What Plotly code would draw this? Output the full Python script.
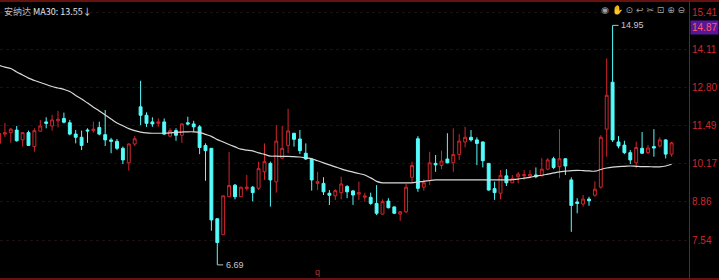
import plotly.graph_objects as go

# ---- data ----
opens = [10.88, 11.20, 11.25, 11.34, 11.00, 11.25, 10.77, 11.30, 11.62, 11.48,
         11.66, 11.74, 11.59, 11.20, 11.09, 11.34, 11.32, 11.43, 11.18, 11.00,
         10.95, 10.71, 10.21, 10.86, 12.14, 11.85, 11.62, 11.57, 11.62, 11.13,
         11.32, 11.16, 11.59, 11.55, 11.45, 10.81, 10.71, 8.28, 7.73, 9.04,
         9.44, 9.04, 9.32, 9.37, 9.33, 9.90, 10.19, 9.55, 10.37, 10.81,
         11.23, 11.03, 10.54, 10.34, 9.50, 9.50, 9.16, 9.07, 9.18, 9.39,
         9.24, 9.13, 9.02, 9.02, 8.81, 8.44, 8.89, 8.69, 8.44, 8.52,
         9.71, 11.04, 9.37, 9.59, 10.19, 10.12, 10.34, 10.21, 10.50, 10.93,
         11.09, 11.00, 10.93, 10.19, 9.32, 9.16, 9.76, 9.52, 9.73, 9.77,
         9.75, 9.79, 9.76, 9.99, 10.35, 10.08, 10.35, 9.62, 8.86, 8.79,
         8.96, 9.09, 9.37, 11.37, 12.99, 10.93, 10.82, 10.56, 10.21, 10.71,
         10.56, 10.77, 10.79, 11.00, 10.51]
highs = [11.31, 11.59, 11.41, 11.48, 11.27, 11.32, 11.40, 11.69, 11.78, 11.86,
         12.00, 11.94, 11.69, 11.34, 11.32, 11.40, 11.63, 11.63, 12.03, 11.07,
         11.03, 10.77, 10.88, 11.13, 13.04, 11.95, 11.78, 11.74, 11.74, 11.40,
         11.40, 11.58, 11.80, 11.66, 11.51, 10.88, 10.72, 8.30, 9.08, 10.58,
         9.48, 9.38, 9.79, 9.41, 10.25, 10.88, 10.25, 11.51, 11.48, 12.07,
         11.24, 11.34, 10.88, 10.38, 9.90, 9.71, 9.27, 9.30, 9.73, 9.44,
         9.27, 9.56, 9.18, 9.18, 9.44, 8.95, 8.99, 8.70, 8.55, 9.48,
         10.25, 11.13, 9.64, 10.59, 10.48, 10.63, 11.23, 11.40, 11.20, 11.45,
         11.34, 11.09, 10.94, 10.20, 9.56, 9.96, 9.99, 9.79, 9.89, 9.96,
         9.96, 10.05, 10.37, 10.37, 10.42, 11.37, 10.37, 9.71, 8.99, 9.10,
         9.04, 9.57, 11.16, 13.81, 14.95, 11.13, 10.97, 10.65, 10.94, 11.27,
         10.82, 11.37, 11.09, 11.02, 10.94]
lows = [10.79, 11.10, 10.90, 10.94, 10.77, 10.79, 10.59, 11.28, 11.40, 11.32,
        11.43, 11.57, 11.16, 10.88, 10.65, 10.90, 11.25, 11.16, 10.79, 10.54,
        10.65, 10.17, 9.94, 10.79, 11.51, 11.45, 11.45, 11.45, 11.17, 11.09,
        10.97, 10.90, 11.50, 11.28, 10.51, 9.59, 7.87, 6.69, 7.72, 9.03,
        8.95, 9.03, 9.25, 8.88, 9.27, 9.62, 8.70, 9.18, 10.35, 10.54,
        10.77, 10.51, 10.31, 9.25, 9.27, 9.10, 8.755, 8.93, 8.95, 8.99,
        8.76, 8.93, 8.87, 8.76, 8.41, 8.43, 8.64, 8.44, 8.21, 8.47,
        9.52, 9.21, 9.25, 9.44, 9.90, 9.99, 10.19, 9.90, 10.31, 10.74,
        10.94, 10.13, 10.05, 9.25, 8.93, 8.95, 9.41, 9.51, 9.50, 9.62,
        9.68, 9.68, 9.75, 9.96, 9.99, 9.68, 9.79, 7.83, 8.47, 8.70,
        8.73, 9.04, 9.32, 10.42, 10.93, 10.71, 10.51, 10.17, 10.02, 10.51,
        10.51, 10.42, 10.74, 10.36, 10.42]
closes = [11.23, 11.25, 11.37, 10.97, 11.25, 10.81, 11.32, 11.48, 11.57, 11.69,
          11.71, 11.61, 11.20, 11.09, 10.81, 11.31, 11.37, 11.20, 11.00, 10.95,
          10.71, 10.31, 10.86, 11.04, 11.85, 11.57, 11.55, 11.62, 11.20, 11.32,
          11.16, 11.55, 11.55, 11.45, 10.74, 10.63, 8.24, 7.46, 9.07, 9.43,
          9.04, 9.37, 9.37, 9.18, 10.01, 10.25, 9.62, 10.96, 10.71, 11.31,
          11.02, 10.63, 10.34, 9.62, 9.56, 9.21, 9.09, 9.25, 9.48, 9.21,
          9.10, 9.18, 9.07, 8.81, 8.47, 8.87, 8.66, 8.47, 8.52, 9.37,
          10.12, 9.33, 9.52, 10.21, 10.14, 10.27, 10.21, 10.50, 10.96, 11.09,
          11.00, 10.88, 10.28, 9.27, 9.18, 9.78, 9.52, 9.66, 9.82, 9.80,
          9.81, 9.73, 9.99, 10.31, 10.05, 10.35, 10.10, 8.74, 8.81, 8.96,
          8.90, 9.30, 11.09, 12.54, 11.00, 10.79, 10.56, 10.31, 10.74, 10.54,
          10.72, 10.72, 11.00, 10.51, 10.90]
ma30 = [13.57, 13.51, 13.46, 13.34, 13.24, 13.13, 13.05, 12.98, 12.91, 12.84,
        12.79, 12.74, 12.67, 12.53, 12.41, 12.27, 12.13, 12.00, 11.86, 11.72,
        11.58, 11.49, 11.39, 11.32, 11.27, 11.24, 11.23, 11.23, 11.23, 11.24,
        11.26, 11.27, 11.28, 11.28, 11.26, 11.19, 11.12, 11.01, 10.93, 10.84,
        10.76, 10.68, 10.65, 10.62, 10.55, 10.50, 10.44, 10.44, 10.43, 10.43,
        10.42, 10.41, 10.38, 10.35, 10.28, 10.21, 10.14, 10.07, 10.00, 9.94,
        9.89, 9.84, 9.79, 9.69, 9.57, 9.52, 9.52, 9.52, 9.52, 9.52,
        9.52, 9.55, 9.57, 9.60, 9.62, 9.62, 9.62, 9.62, 9.62, 9.62,
        9.62, 9.62, 9.62, 9.62, 9.62, 9.62, 9.62, 9.63, 9.65, 9.68,
        9.71, 9.75, 9.78, 9.82, 9.86, 9.90, 9.92, 9.94, 9.95, 9.94,
        9.93, 9.92, 9.98, 10.03, 10.06, 10.08, 10.09, 10.10, 10.09, 10.08,
        10.08, 10.07, 10.07, 10.10, 10.16]
tick_vals = [15.41, 14.11, 12.80, 11.49, 10.17, 8.86, 7.54]
tick_text = ["15.41", "14.11", "12.80", "11.49", "10.17", "8.86", "7.54"]
last_price_label = "14.87"
title_name = "安纳达"
title_ma = "MA30: 13.55↓"

idx = list(range(len(opens)))

RED = "#d0262c"
CYAN = "#54fcfc"
BORDER = "#8a1717"

fig = go.Figure()
fig.add_trace(go.Candlestick(
    x=idx, open=opens, high=highs, low=lows, close=closes,
    increasing=dict(line=dict(color=RED, width=1), fillcolor="#000000"),
    decreasing=dict(line=dict(color=CYAN, width=1), fillcolor=CYAN),
    hoverinfo="skip", showlegend=False,
))
fig.add_trace(go.Scatter(
    x=idx, y=ma30, mode="lines",
    line=dict(color="#d9d9d9", width=1.2, shape="spline"),
    hoverinfo="skip", showlegend=False,
))

W, H = 719, 280
fig.update_layout(
    width=W, height=H,
    margin=dict(l=0, r=30, t=1, b=1),
    paper_bgcolor="#000000", plot_bgcolor="#000000",
    showlegend=False,
    font=dict(family="Liberation Sans, Arial, sans-serif", size=10, color=RED),
    xaxis=dict(range=[0.17, 116.95], visible=False, rangeslider=dict(visible=False),
               showgrid=False, zeroline=False, fixedrange=True),
    yaxis=dict(range=[6.203, 15.79], side="right", tickvals=tick_vals, ticktext=tick_text,
               showgrid=True, gridcolor="#1b1010", griddash="dot", gridwidth=1,
               zeroline=False, ticks="", showline=True, linecolor=BORDER, linewidth=1,
               tickfont=dict(color=RED, size=10, family="Liberation Sans, Arial, sans-serif"),
               fixedrange=True),
)

# frame lines spanning the full width
for yv in (1.0, 0.0):
    fig.add_shape(type="line", xref="paper", yref="paper", x0=0, x1=W / 689.0,
                  y0=yv, y1=yv, line=dict(color=BORDER, width=1.5))

# title
fig.add_annotation(xref="paper", yref="paper", x=0.003, y=1.0, yshift=-2,
                   xanchor="left", yanchor="top", showarrow=False,
                   text=f"<span style='color:#bdbdbd'>{title_name}</span> "
                        f"<span style='color:#e6e6e6'>{title_ma}</span>",
                   font=dict(size=9, family="Noto Sans CJK SC, Liberation Sans, sans-serif"))

# toolbar symbols
fig.add_annotation(xref="paper", yref="paper", x=0.997, y=1.0, yshift=-1,
                   xanchor="right", yanchor="top", showarrow=False,
                   text="◉ ✋ ⊙ ↩ ✂ ⊡ ⊕ ⊖",
                   font=dict(size=9, color="#a0a0a0", family="DejaVu Sans"))

# current price tag
fig.add_annotation(xref="paper", yref="y", x=1.0, y=14.87, xanchor="left",
                   showarrow=False, text=last_price_label,
                   bgcolor="#561798", borderpad=1, xshift=1,
                   font=dict(size=10, color="#ff5a6a"))

# max / min markers
i_max = max(idx, key=lambda i: highs[i])
i_min = min(idx, key=lambda i: lows[i])
for i, v in ((i_max, highs[i_max]), (i_min, lows[i_min])):
    fig.add_shape(type="line", xref="x", yref="y", x0=i, x1=i + 1.0, y0=v, y1=v,
                  line=dict(color="#bdbdbd", width=1))
    fig.add_annotation(xref="x", yref="y", x=i + 1.1, y=v, xanchor="left",
                       showarrow=False, text=f"{v:.2f}",
                       font=dict(size=9, color="#c8c8c8"))

# cut-off axis label at the bottom
fig.add_annotation(xref="x", yref="paper", x=54, y=0, yanchor="bottom", yshift=0,
                   showarrow=False, text="q", font=dict(size=9, color="#b83030"))

fig.write_html("out.html", config=dict(displayModeBar=False, staticPlot=True))
